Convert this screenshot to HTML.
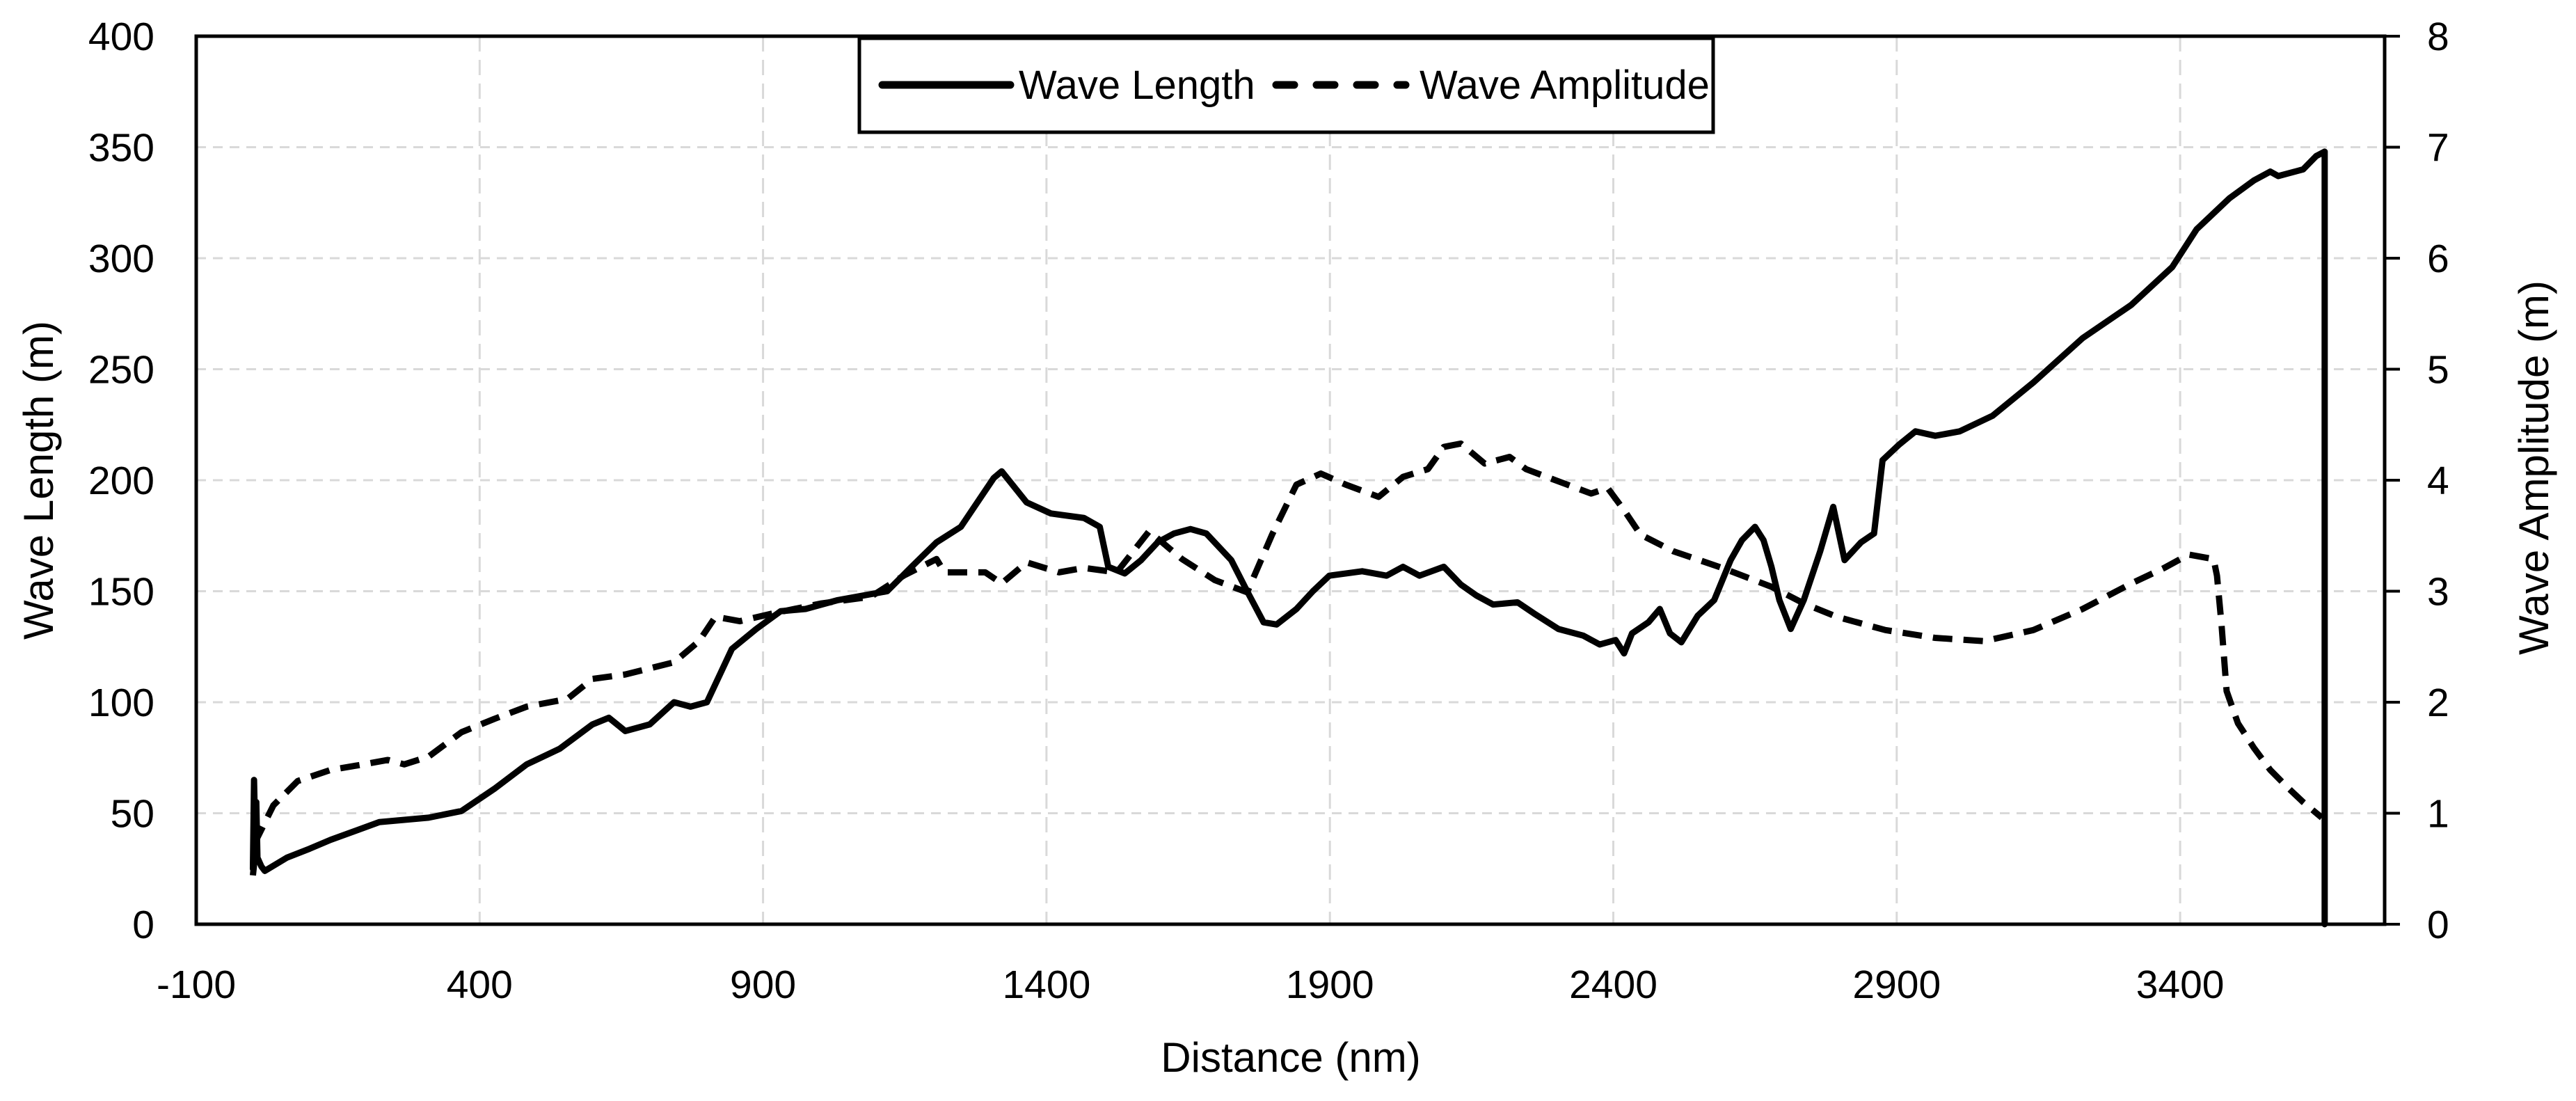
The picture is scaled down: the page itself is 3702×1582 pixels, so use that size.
<!DOCTYPE html>
<html><head><meta charset="utf-8"><style>
html,body{margin:0;padding:0;background:#fff;}
svg{display:block;font-family:"Liberation Sans",sans-serif;}
</style></head><body>
<svg id="chart" width="3702" height="1582" viewBox="0 0 3702 1582" xmlns="http://www.w3.org/2000/svg">
<g id="grid"></g>
<g id="series"></g>
<g id="axes"></g>
<text x="0" y="0" font-size="60" text-anchor="middle" transform="translate(76,690) rotate(-90)">Wave Length (m)</text>
<text x="0" y="0" font-size="60" text-anchor="middle" transform="translate(3662,672) rotate(-90)">Wave Amplitude (m)</text>
<text x="1855" y="1540" font-size="60" text-anchor="middle">Distance (nm)</text>
<g>
<rect x="1235" y="55" width="1227" height="135" fill="#fff" stroke="#000" stroke-width="5"/>
<line x1="1268" y1="122" x2="1452" y2="122" stroke="#000" stroke-width="11" stroke-linecap="round"/>
<text x="1464" y="142" font-size="58">Wave Length</text>
<line x1="1834" y1="122" x2="2020" y2="122" stroke="#000" stroke-width="11" stroke-dasharray="26 32" stroke-linecap="round"/>
<text x="2040" y="142" font-size="58">Wave Amplitude</text>
</g>
</svg>
<script>
const xTicks=[-100,400,900,1400,1900,2400,2900,3400];
const yTicks=[0,50,100,150,200,250,300,350,400];
const y2Ticks=[0,1,2,3,4,5,6,7,8];
const lenX=[0,2,4,6,8,15,21,60,100,137,223,310,368,426,483,541,599,628,657,700,743,772,801,845,888,931,975,1032,1119,1162,1206,1249,1307,1321,1365,1408,1466,1494,1509,1538,1567,1596,1625,1654,1682,1726,1754,1783,1806,1841,1870,1899,1957,2000,2029,2058,2101,2131,2159,2188,2231,2260,2303,2347,2376,2404,2419,2433,2462,2482,2500,2520,2549,2578,2607,2627,2650,2665,2679,2693,2713,2736,2765,2788,2808,2837,2860,2875,2904,2933,2968,3011,3069,3141,3228,3314,3386,3429,3487,3530,3559,3573,3617,3640,3655,3655];
const lenY=[25,65,40,55,30,26,24,30,34,38,46,48,51,61,72,79,90,93,87,90,100,98,100,124,133,141,142,146,150,161,172,179,201,204,190,185,183,179,161,158,164,172,176,178,176,164,150,136,135,142,150,157,159,157,161,157,161,153,148,144,145,140,133,130,126,128,122,131,136,142,131,127,139,146,164,173,179,173,161,146,133,146,168,188,164,172,176,209,216,222,220,222,229,244,264,279,296,313,327,335,339,337,340,346,348,0];
const ampX=[0,7,36,79,137,195,238,267,310,368,426,483,555,599,657,743,787,816,859,917,1003,1090,1148,1206,1220,1292,1321,1365,1422,1466,1524,1581,1639,1697,1754,1798,1841,1884,1928,1986,2029,2073,2101,2131,2173,2217,2246,2303,2361,2390,2419,2448,2506,2592,2679,2736,2794,2880,2967,3054,3141,3228,3314,3372,3415,3459,3465,3473,3482,3502,3530,3559,3588,3617,3650];
const ampY=[0.44,0.77,1.07,1.29,1.39,1.44,1.48,1.44,1.51,1.73,1.85,1.96,2.03,2.21,2.25,2.36,2.55,2.77,2.73,2.8,2.89,2.95,3.14,3.29,3.17,3.17,3.07,3.26,3.17,3.21,3.17,3.54,3.29,3.1,2.99,3.51,3.96,4.06,3.96,3.85,4.03,4.1,4.3,4.33,4.15,4.21,4.1,3.99,3.88,3.93,3.73,3.51,3.36,3.21,3.04,2.89,2.77,2.65,2.58,2.55,2.65,2.84,3.07,3.21,3.33,3.29,3.14,2.7,2.1,1.81,1.59,1.39,1.24,1.1,0.96];

const NS="http://www.w3.org/2000/svg";
const L=282,R=3427,T=52,B=1328;
const xs=v=>L+(v+100)*0.8146;
const ys=v=>B-(v/400)*(B-T);
const ys2=v=>B-(v/8)*(B-T);
function mk(tag,attrs,parent){const e=document.createElementNS(NS,tag);for(const k in attrs)e.setAttribute(k,attrs[k]);parent.appendChild(e);return e;}
const grid=document.getElementById('grid'),axes=document.getElementById('axes'),series=document.getElementById('series');
xTicks.forEach(t=>{
  if(t>-100){const g=mk('line',{x1:xs(t),x2:xs(t),y1:T,y2:B,stroke:'#d9d9d9','stroke-width':3,'stroke-dasharray':'22 12'},grid);
  
  }
  const tx=mk('text',{x:xs(t),y:1434,'font-size':57,'text-anchor':'middle'},axes);tx.textContent=t;
  
  
});
yTicks.forEach(t=>{
  if(t>0&&t<400){const g=mk('line',{x1:L,x2:R,y1:ys(t),y2:ys(t),stroke:'#d9d9d9','stroke-width':3,'stroke-dasharray':'14 10'},grid);
  
  }
  const tx=mk('text',{x:222,y:ys(t)+20,'font-size':57,'text-anchor':'end'},axes);tx.textContent=t;
  
  
});
y2Ticks.forEach(t=>{
  const tk=mk('line',{x1:R,x2:R+22,y1:ys2(t),y2:ys2(t),stroke:'#000','stroke-width':4},axes);
  
  
  const tx=mk('text',{x:3488,y:ys2(t)+20,'font-size':57},axes);tx.textContent=t;
  
  
});
const frame=mk('path',{d:`M${L},${T}H${R}V${B}H${L}Z`,fill:'none',stroke:'#000','stroke-width':5},axes);


const amp=mk('polyline',{points:ampX.map((x,i)=>xs(x)+','+ys2(ampY[i])).join(' '),fill:'none',stroke:'#000','stroke-width':9,'stroke-dasharray':'28 16','stroke-linejoin':'round'},series);


const len=mk('polyline',{points:lenX.map((x,i)=>xs(x)+','+ys(lenY[i])).join(' '),fill:'none',stroke:'#000','stroke-width':9,'stroke-linejoin':'round','stroke-linecap':'round'},series);


</script>
</body></html>
